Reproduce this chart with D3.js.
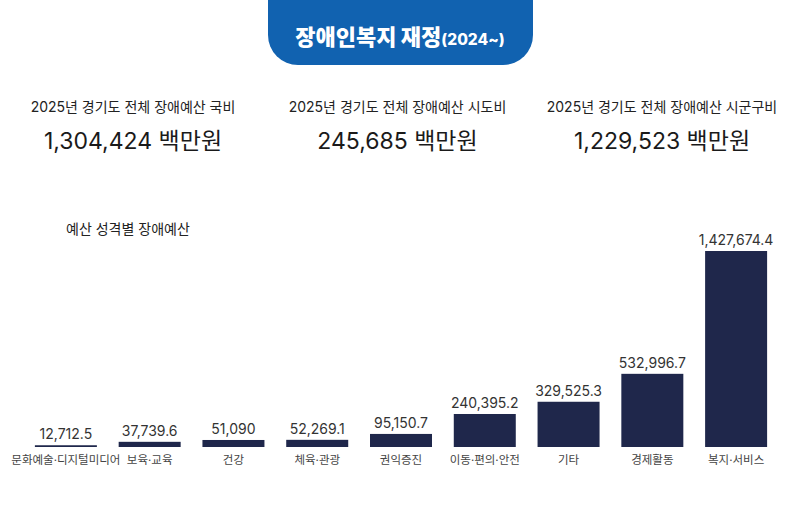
<!DOCTYPE html>
<html>
<head>
<meta charset="utf-8">
<script src="https://cdn.jsdelivr.net/npm/d3@7"></script>
<style>
  html, body { margin: 0; padding: 0; background: #fff; }
  svg { display: block; font-family: Inter, "Noto Sans CJK KR", sans-serif; }
</style>
</head>
<body>
<svg id="chart" width="800" height="531"></svg>
<script>
const categories = ["문화예술·디지털미디어", "보육·교육", "건강", "체육·관광", "권익증진", "이동·편의·안전", "기타", "경제활동", "복지·서비스"];
const values = [12712.5, 37739.6, 51090, 52269.1, 95150.7, 240395.2, 329525.3, 532996.7, 1427674.4];
const valueLabels = ["12,712.5", "37,739.6", "51,090", "52,269.1", "95,150.7", "240,395.2", "329,525.3", "532,996.7", "1,427,674.4"];
const summaryTitles = ["2025년 경기도 전체 장애예산 국비", "2025년 경기도 전체 장애예산 시도비", "2025년 경기도 전체 장애예산 시군구비"];
const summaryValues = ["1,304,424 백만원", "245,685 백만원", "1,229,523 백만원"];
const titleMain = "장애인복지 재정";
const titleSub = "(2024~)";
const chartTitle = "예산 성격별 장애예산";

const FONT = 'Inter, "Noto Sans CJK KR", sans-serif';
const svg = d3.select("#chart");

// Header banner with rounded bottom corners
const bx0 = 268, bx1 = 533, by1 = 65, r = 30;
svg.append("path")
  .attr("d", `M${bx0},0 L${bx1},0 L${bx1},${by1 - r} A${r},${r} 0 0 1 ${bx1 - r},${by1} L${bx0 + r},${by1} A${r},${r} 0 0 1 ${bx0},${by1 - r} Z`)
  .attr("fill", "#1162b0");

const t = svg.append("text")
  .attr("x", 400).attr("y", 45)
  .attr("text-anchor", "middle")
  .attr("fill", "#fff")
  .attr("font-weight", "900");
t.append("tspan").attr("font-size", 22).text(titleMain);
t.append("tspan").attr("font-size", 15.5).attr("font-weight", "800").text(titleSub);

// Summary blocks
const sx = d3.scalePoint().domain(d3.range(3)).range([133, 662]);
summaryTitles.forEach((s, i) => {
  svg.append("text").attr("x", sx(i)).attr("y", 112)
    .attr("text-anchor", "middle").attr("font-size", 14).attr("fill", "#222").text(s);
  svg.append("text").attr("x", sx(i)).attr("y", 149)
    .attr("text-anchor", "middle").attr("font-size", 23).attr("fill", "#1a1a1a").text(summaryValues[i]);
});

svg.append("text").attr("x", 66).attr("y", 234)
  .attr("font-size", 14).attr("fill", "#222").text(chartTitle);

// Bars
const x = d3.scaleBand().domain(categories).range([24, 778]).paddingInner(0.26).paddingOuter(0.13);
const y = d3.scaleLinear().domain([0, d3.max(values)]).range([447, 251]);

const g = svg.append("g");
g.selectAll("rect").data(values).join("rect")
  .attr("x", (d, i) => x(categories[i]))
  .attr("y", d => y(d))
  .attr("width", x.bandwidth())
  .attr("height", d => Math.max(1.5, y(0) - y(d)))
  .attr("fill", "#1f274b");

g.selectAll("text.val").data(values).join("text").attr("class", "val")
  .attr("x", (d, i) => x(categories[i]) + x.bandwidth() / 2)
  .attr("y", d => Math.min(y(d), y(0) - 1.5) - 6)
  .attr("text-anchor", "middle")
  .attr("font-size", 14)
  .attr("fill", "#333")
  .text((d, i) => valueLabels[i]);

const xAxis = d3.axisBottom(x).tickSize(0).tickPadding(9);
const ax = svg.append("g").attr("transform", `translate(0,${y(0)})`).call(xAxis);
ax.select(".domain").remove();
ax.selectAll("text").attr("font-size", 11.5).attr("fill", "#444")
  .attr("font-family", FONT);
</script>
</body>
</html>
